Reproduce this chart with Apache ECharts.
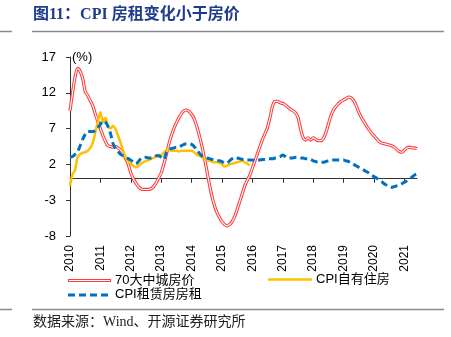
<!DOCTYPE html>
<html>
<head>
<meta charset="utf-8">
<script src="https://cdn.jsdelivr.net/npm/echarts@6/dist/echarts.min.js"></script>
<style>
html,body{margin:0;padding:0;background:#fff;}
#c{width:451px;height:337px;}
</style>
</head>
<body>
<div id="c"></div>
<script>
// ---- data (monthly, Jan 2010 - Jun 2021) ----
const startYear = 2010;
const months = [];
for (let y = 2010; y <= 2021; y++) {
  for (let m = 1; m <= 12; m++) {
    if (y === 2021 && m > 6) break;
    months.push(y + '-' + (m < 10 ? '0' + m : m));
  }
}
const yTicks = [-8, -3, 2, 7, 12, 17];

const housePrice70 = [
  // 2010
  9.5, 12.0, 14.2, 15.4, 15.0, 14.0, 12.2, 11.6, 10.9, 10.2, 9.0, 8.0,
  // 2011
  7.0, 6.0, 5.2, 4.6, 4.5, 4.4, 4.5, 4.3, 4.0, 3.4, 2.8, 2.0,
  // 2012
  0.8, 0.0, -0.6, -1.1, -1.4, -1.5, -1.5, -1.5, -1.4, -1.1, -0.6, 0.1,
  // 2013
  0.8, 2.0, 3.3, 4.8, 6.0, 7.0, 7.8, 8.5, 9.1, 9.5, 9.6, 9.4,
  // 2014
  9.0, 8.4, 7.4, 6.1, 4.7, 3.0, 1.2, -0.7, -2.4, -3.7, -4.7, -5.4,
  // 2015
  -6.0, -6.4, -6.6, -6.4, -6.0, -5.3, -4.3, -3.2, -2.1, -1.0, -0.2, 0.5,
  // 2016
  1.5, 2.5, 3.5, 4.5, 5.5, 6.3, 7.2, 8.6, 10.2, 10.8, 10.8, 10.6,
  // 2017
  10.5, 10.3, 10.0, 9.7, 9.5, 9.2, 8.6, 7.0, 5.8, 5.4, 5.7, 5.4,
  // 2018
  5.7, 5.5, 5.3, 5.3, 5.6, 6.4, 7.6, 8.8, 9.6, 10.1, 10.5, 10.8,
  // 2019
  11.0, 11.2, 11.4, 11.3, 10.9, 10.2, 9.3, 8.6, 8.0, 7.4, 6.9, 6.4,
  // 2020
  6.0, 5.6, 5.2, 5.0, 4.9, 4.8, 4.7, 4.6, 4.4, 4.1, 3.8, 3.7,
  // 2021
  4.0, 4.3, 4.4, 4.3, 4.3, 4.2
];

const cpiOwnHousing = [
  // 2010
  -1.0, 0.6, 1.2, 3.0, 3.4, 3.6, 3.7, 3.9, 4.3, 5.0, 6.5, 8.0,
  // 2011
  9.3, 7.9, 8.5, 7.3, 7.0, 7.4, 6.9, 6.0, 5.0, 3.9, 3.0, 2.4,
  // 2012
  2.1, 1.8, 1.6, 1.8, 2.1, 2.3, 2.5, 2.6, 2.8, 2.9, 3.1, 3.3,
  // 2013
  3.3, 3.6, 4.0, 4.1, 3.9, 3.9, 3.9, 3.8, 3.9, 3.9, 3.9, 3.9,
  // 2014
  3.9, 3.7, 3.4, 3.2, 3.0, 2.8, 2.7, 2.5, 2.4, 2.3, 2.3, 2.2,
  // 2015
  2.0, 1.7, 1.8, 2.0, 2.1, 2.2, 2.3, 2.4, 2.5, 2.3, 2.1, 1.9
];

const cpiRent = [
  // 2010
  3.0, 3.1, 3.4, 3.8, 4.6, 5.5, 6.2, 6.6, 6.6, 6.6, 6.7, 7.1,
  // 2011
  7.6, 8.1, 7.9, 7.3, 6.3, 4.9, 4.2, 3.8, 3.4, 3.2, 3.0, 2.8,
  // 2012
  2.6, 2.3, 2.1, 2.4, 2.8, 3.0, 3.0, 2.9, 2.9, 3.0, 3.2, 3.2,
  // 2013
  3.0, 2.7, 3.6, 4.1, 4.2, 4.3, 4.4, 4.4, 4.6, 4.8, 4.9, 4.9,
  // 2014
  4.8, 4.5, 4.0, 3.6, 3.2, 3.0, 2.9, 2.8, 2.7, 2.6, 2.5, 2.5,
  // 2015
  2.4, 2.2, 2.2, 2.5, 2.8, 3.0, 2.9, 2.8, 2.7, 2.6, 2.6, 2.6,
  // 2016
  2.6, 2.5, 2.6, 2.6, 2.7, 2.7, 2.8, 2.8, 2.8, 2.9, 3.0, 3.1,
  // 2017
  3.3, 3.1, 2.9, 2.9, 2.9, 3.0, 3.0, 2.9, 2.9, 2.8, 2.8, 2.7,
  // 2018
  2.5, 2.4, 2.3, 2.3, 2.3, 2.4, 2.5, 2.6, 2.6, 2.6, 2.6, 2.6,
  // 2019
  2.6, 2.5, 2.4, 2.2, 2.0, 1.8, 1.6, 1.4, 1.2, 1.0, 0.8, 0.5,
  // 2020
  0.3, 0.1, -0.2, -0.4, -0.7, -0.9, -1.1, -1.2, -1.1, -1.0, -0.9, -0.7,
  // 2021
  -0.5, -0.3, 0.0, 0.2, 0.5, 0.7
];

const seriesNames = ['70大中城房价', 'CPI自有住房', 'CPI租赁房房租'];
const titleText = '图11：CPI 房租变化小于房价';
const sourceText = '数据来源：Wind、开源证券研究所';

// ---- styles ----
const RED = '#FF3B3B', YELLOW = '#FFC000', BLUE = '#0070C0';
const GRAY = '#8a8a8a';
const janOnly = (i) => i % 12 === 0;

const chart = echarts.init(document.getElementById('c'), null, {renderer: 'canvas'});

const option = {
  backgroundColor: '#fff',
  animation: false,
  grid: {left: 70, right: 34, top: 57, bottom: 101, containLabel: false},
  xAxis: [
    {
      type: 'category', data: months, boundaryGap: false,
      axisLine: {show: true, onZero: true, lineStyle: {color: '#333', width: 1}},
      axisTick: {show: true, interval: janOnly, length: 4, lineStyle: {color: '#333'}},
      axisLabel: {show: false},
      splitLine: {show: false}
    },
    {
      type: 'category', data: months, boundaryGap: false, position: 'bottom',
      axisLine: {show: false, onZero: false},
      axisTick: {show: false},
      axisLabel: {
        show: true, interval: janOnly, rotate: 90, margin: 9,
        fontSize: 12, color: '#000', fontFamily: 'Liberation Sans, Arial, sans-serif',
        formatter: (v) => v.slice(0, 4)
      },
      splitLine: {show: false}
    }
  ],
  yAxis: {
    type: 'value', min: yTicks[0], max: yTicks[yTicks.length - 1], interval: 5,
    axisLine: {show: true, lineStyle: {color: '#333', width: 1}},
    axisTick: {show: true, length: 4, lineStyle: {color: '#333'}},
    axisLabel: {fontSize: 13, color: '#000', margin: 14, fontFamily: 'Liberation Sans, Arial, sans-serif'},
    splitLine: {show: false}
  },
  series: [
    {
      name: seriesNames[0], type: 'line', data: housePrice70, symbol: 'none', smooth: 0.3,
      lineStyle: {color: RED, width: 3.2}, z: 2
    },
    {
      name: 'core', type: 'line', data: housePrice70, symbol: 'none', smooth: 0.3,
      lineStyle: {color: '#fff', width: 1.1}, z: 3, silent: true
    },
    {
      name: seriesNames[1], type: 'line', data: cpiOwnHousing, symbol: 'none', smooth: 0.3,
      lineStyle: {color: YELLOW, width: 2.5}, z: 4
    },
    {
      name: seriesNames[2], type: 'line', data: cpiRent, symbol: 'none', smooth: 0.3,
      lineStyle: {color: BLUE, width: 3, type: [7, 4]}, z: 5
    }
  ],
  graphic: [
    // title
    {type: 'text', left: 33, top: 7, style: {
      text: titleText, fill: '#1f3b8c',
      font: "bold 16px 'Liberation Serif', 'Noto Sans CJK SC', serif"
    }},
    // separators
    {type: 'line', shape: {x1: 0, y1: 31.5, x2: 12, y2: 31.5}, style: {stroke: GRAY, lineWidth: 1.5}},
    {type: 'line', shape: {x1: 32, y1: 31.5, x2: 444, y2: 31.5}, style: {stroke: GRAY, lineWidth: 1.5}},
    {type: 'line', shape: {x1: 0, y1: 309.5, x2: 12, y2: 309.5}, style: {stroke: GRAY, lineWidth: 1.5}},
    {type: 'line', shape: {x1: 32, y1: 309.5, x2: 444, y2: 309.5}, style: {stroke: GRAY, lineWidth: 1.5}},
    // unit
    {type: 'text', left: 72, top: 51, style: {
      text: '(%)', fill: '#000', font: "13px 'Liberation Sans', Arial, sans-serif"
    }},
    // legend: red double line
    {type: 'line', shape: {x1: 68, y1: 280.5, x2: 111, y2: 280.5}, style: {stroke: RED, lineWidth: 3.2}},
    {type: 'line', shape: {x1: 69, y1: 280.5, x2: 110, y2: 280.5}, style: {stroke: '#fff', lineWidth: 1.1}},
    {type: 'text', left: 115, top: 273.5, style: {
      text: seriesNames[0], fill: '#000', font: "13px 'Liberation Sans', 'Noto Sans CJK SC', sans-serif"
    }},
    // legend: yellow
    {type: 'line', shape: {x1: 268, y1: 279.5, x2: 312, y2: 279.5}, style: {stroke: YELLOW, lineWidth: 2.5}},
    {type: 'text', left: 316, top: 273, style: {
      text: seriesNames[1], fill: '#000', font: "13px 'Liberation Sans', 'Noto Sans CJK SC', sans-serif"
    }},
    // legend: blue dashed
    {type: 'line', shape: {x1: 68, y1: 295, x2: 111, y2: 295}, style: {stroke: BLUE, lineWidth: 3, lineDash: [7, 4]}},
    {type: 'text', left: 115, top: 288, style: {
      text: seriesNames[2], fill: '#000', font: "13px 'Liberation Sans', 'Noto Sans CJK SC', sans-serif"
    }},
    // source
    {type: 'text', left: 33, top: 315, style: {
      text: sourceText, fill: '#222', font: "14px 'Liberation Serif', 'Noto Sans CJK SC', serif"
    }}
  ]
};
chart.setOption(option);
</script>
</body>
</html>
